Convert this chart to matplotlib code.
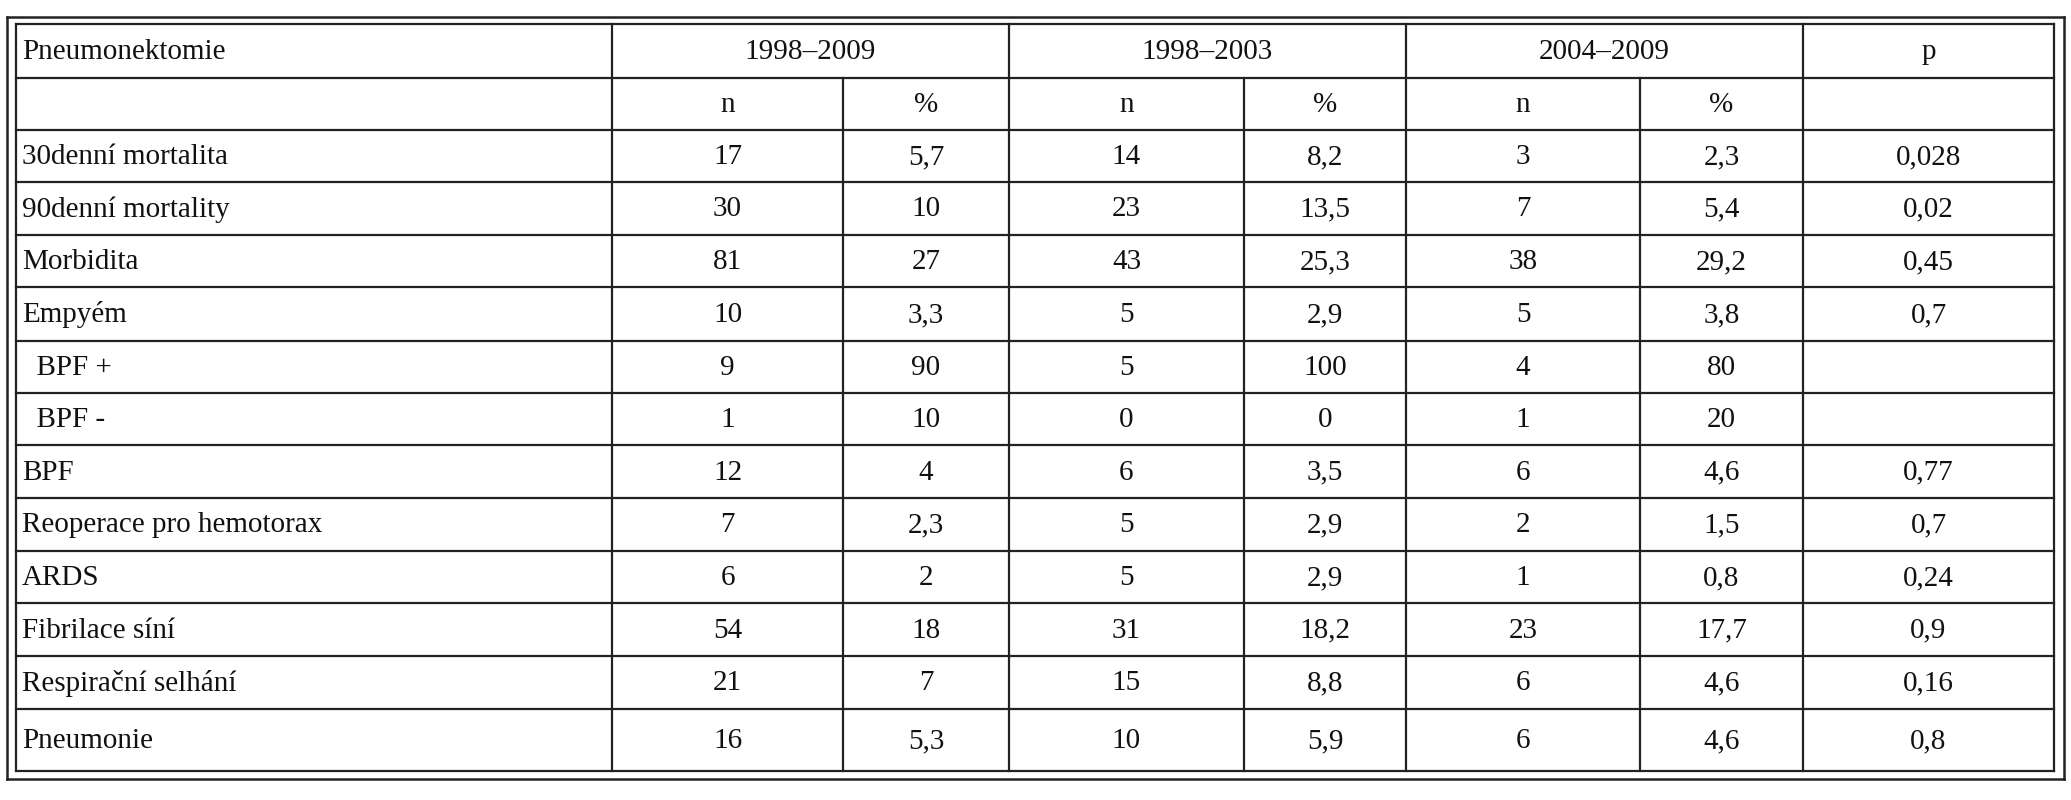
import matplotlib.pyplot as plt
from matplotlib.lines import Line2D

W, H = 2071, 800

row_labels = ["30denní mortalita", "90denní mortality", "Morbidita", "Empyém",
              "  BPF +", "  BPF -", "BPF", "Reoperace pro hemotorax", "ARDS",
              "Fibrilace síní", "Respirační selhání", "Pneumonie"]
n_all = ["17", "30", "81", "10", "9", "1", "12", "7", "6", "54", "21", "16"]
pct_all = ["5,7", "10", "27", "3,3", "90", "10", "4", "2,3", "2", "18", "7", "5,3"]
n_early = ["14", "23", "43", "5", "5", "0", "6", "5", "5", "31", "15", "10"]
pct_early = ["8,2", "13,5", "25,3", "2,9", "100", "0", "3,5", "2,9", "2,9", "18,2", "8,8", "5,9"]
n_late = ["3", "7", "38", "5", "4", "1", "6", "2", "1", "23", "6", "6"]
pct_late = ["2,3", "5,4", "29,2", "3,8", "80", "20", "4,6", "1,5", "0,8", "17,7", "4,6", "4,6"]
p_vals = ["0,028", "0,02", "0,45", "0,7", "", "", "0,77", "0,7", "0,24", "0,9", "0,16", "0,8"]
periods = ["1998–2009", "1998–2003", "2004–2009"]

# grid positions in pixels
col_x = [16, 612, 843, 1009, 1244, 1406, 1640, 1803, 2054]
row_y = [24, 78, 130, 182, 235, 287, 341, 393, 445, 498, 551, 603, 656, 709, 771]

fig = plt.figure(figsize=(W / 100, H / 100), dpi=100)
ax = fig.add_axes([0, 0, 1, 1])
ax.set_xlim(0, W)
ax.set_ylim(H, 0)
ax.axis("off")

lw = 1.6
c = "#222222"
def line(x0, x1, y0, y1, w=lw):
    ax.add_line(Line2D([x0, x1], [y0, y1], color=c, lw=w))

# outer double frame
ox0, oy0, ox1, oy1 = 7, 17, 2064, 779
for (a, b, d, e) in [(ox0, ox1, oy0, oy0), (ox0, ox1, oy1, oy1), (ox0, ox0, oy0, oy1), (ox1, ox1, oy0, oy1)]:
    line(a, b, d, e, 1.8)
x0, x1 = col_x[0], col_x[-1]
for y in row_y:
    line(x0, x1, y, y)
line(x0, x0, row_y[0], row_y[-1])
line(x1, x1, row_y[0], row_y[-1])
# vertical lines: group boundaries full height, inner n/% splits from 2nd row
for i, x in enumerate(col_x[1:-1], start=1):
    if i in (1, 3, 5, 7):
        line(x, x, row_y[0], row_y[-1])
    else:
        line(x, x, row_y[1], row_y[-1])

font = dict(family="Liberation Serif", fontsize=21, color="#111111", va="center")
def cy(r):
    return (row_y[r] + row_y[r + 1]) / 2 + 1

ax.text(22, cy(0), "Pneumonektomie", ha="left", **font)
for g, lab in enumerate(periods):
    ax.text((col_x[1 + 2 * g] + col_x[3 + 2 * g]) / 2, cy(0), lab, ha="center", **font)
ax.text((col_x[7] + col_x[8]) / 2, cy(0), "p", ha="center", **font)
for k in range(6):
    ax.text((col_x[1 + k] + col_x[2 + k]) / 2, cy(1), "n" if k % 2 == 0 else "%", ha="center", **font)

cols = [n_all, pct_all, n_early, pct_early, n_late, pct_late, p_vals]
for r, lab in enumerate(row_labels):
    ax.text(22, cy(r + 2), lab, ha="left", **font)
    for k, vals in enumerate(cols):
        ax.text((col_x[1 + k] + col_x[2 + k]) / 2, cy(r + 2), vals[r], ha="center", **font)

fig.savefig("out.png", dpi=100, facecolor="white")
